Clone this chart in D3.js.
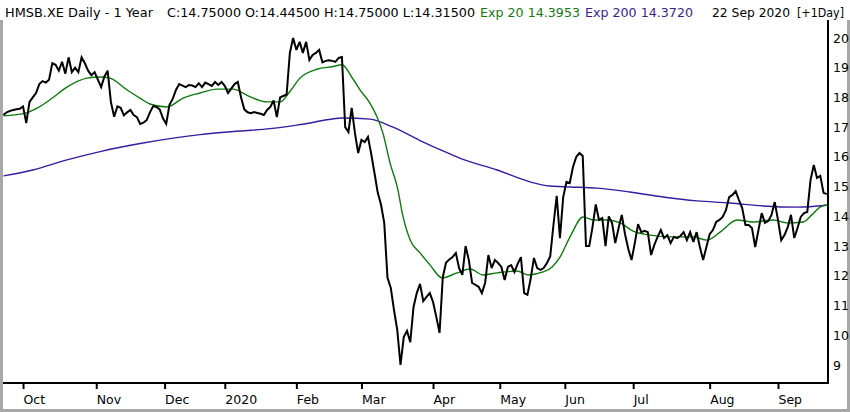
<!DOCTYPE html>
<html><head><meta charset="utf-8">
<script src="https://cdn.jsdelivr.net/npm/d3@7"></script>
<style>
html,body{margin:0;padding:0;background:#fff;}
svg{display:block;}
text{font-family:"DejaVu Sans",Verdana,sans-serif;}
</style></head>
<body>
<svg id="chart" width="850" height="412"></svg>
<script>
// ---- data (trading-day index based) ----
const closePrices = [
17.41,17.5,17.55,17.58,17.6,17.62,17.7,17.14,17.85,18.0,
18.15,18.45,18.55,18.5,18.6,19.15,19.1,18.9,19.2,18.8,
19.35,18.85,19.0,18.85,19.35,19.15,18.9,18.75,18.85,18.6,
18.35,18.7,18.9,17.85,17.35,17.7,17.65,17.4,17.5,17.58,
17.41,17.34,17.11,17.15,17.24,17.5,17.71,17.68,17.6,17.3,
17.11,17.75,17.95,18.25,18.45,18.4,18.35,18.42,18.4,18.35,
18.48,18.35,18.5,18.45,18.39,18.52,18.42,18.52,18.39,18.15,
18.3,18.45,18.52,18.0,17.6,17.5,17.47,17.51,17.48,17.45,
17.41,17.58,17.68,17.9,17.34,18.0,18.05,18.1,19.5,20.0,
19.6,19.87,19.5,19.87,19.26,19.43,19.5,19.6,19.18,19.23,
19.25,19.23,19.2,19.33,19.36,17.0,16.84,17.65,16.8,16.13,
16.57,16.5,16.67,16.1,15.46,14.8,14.4,13.78,11.93,11.6,
10.85,10.18,9.0,9.94,10.15,9.77,10.95,11.42,11.73,11.15,
11.29,11.42,11.12,10.62,10.08,11.96,12.45,12.55,12.63,12.77,
12.26,12.03,13.0,12.53,11.76,11.7,11.63,11.42,11.76,12.7,
12.26,12.53,12.43,12.3,11.86,12.3,12.36,12.13,12.4,12.63,
11.42,11.36,11.9,12.6,12.26,12.2,12.26,12.43,12.65,13.71,
14.69,13.27,14.65,15.16,15.12,15.66,16.0,16.13,16.03,13.0,
13.0,13.64,14.4,13.88,13.94,13.0,14.0,13.78,13.1,13.6,
14.05,13.4,12.9,12.53,13.1,13.74,13.47,13.51,13.47,12.7,
13.04,13.31,13.54,13.27,13.37,13.1,13.31,13.27,13.34,13.47,
13.2,13.47,13.14,13.47,12.97,12.53,12.97,13.4,13.54,13.81,
13.88,13.98,14.21,14.65,14.72,14.85,14.55,14.28,13.71,13.71,
13.61,12.97,13.54,14.11,13.78,13.84,14.05,14.48,13.88,13.2,
13.37,13.64,14.05,13.27,13.61,13.98,14.11,14.15,15.22,15.73,
15.29,15.36,14.79,14.75
];

const ema20Day = [0,7,11,15,19.5,25.7,29.7,32.7,38,41.9,45,50.2,55.2,60.4,65.6,70.5,75.8,81,85,88,91.1,96.3,101.3,104,107.4,109.6,112.6,114.8,116.6,118.8,121,122.8,125,128,131.1,134.8,139.4,143.4,147.4,151.7,157.8,161.2,165.8,168.6,171,174.1,178.1,181.2,185.5,189.5,193.5,198.7,204.8,211.9,216.2,220.2,225.4,230.3,236.5,240.8,245.7,248.4,250.9,253];
const ema20Val = [17.38,17.48,17.68,17.98,18.35,18.65,18.69,18.65,18.25,17.98,17.78,17.68,17.98,18.15,18.28,18.28,18.02,17.85,17.85,18.2,18.65,18.95,19.04,19.1,18.62,18.25,17.81,17.34,16.8,15.79,14.99,13.98,13.2,12.77,12.36,11.93,12.1,12.23,12.03,12.1,12.16,12.03,12.13,12.3,12.63,13.31,13.98,13.88,13.88,13.78,13.5,13.37,13.31,13.31,13.2,13.47,13.88,13.81,13.88,13.78,13.81,14.05,14.31,14.3953];

const ema200Day = [0,9,19.5,29.7,42,60.4,72.7,81.9,92,104.3,112.6,119.7,128,137.2,141.2,151.7,161.8,167.9,174.1,182.4,192.5,202.7,213.1,223.3,233.4,243.9,253];
const ema200Val = [15.36,15.56,15.9,16.18,16.45,16.75,16.87,16.95,17.1,17.31,17.27,17.0,16.55,16.1,15.92,15.56,15.16,15.02,14.99,14.95,14.82,14.65,14.52,14.45,14.35,14.31,14.372];

const monthLabels = ["Oct","Nov","Dec","2020","Feb","Mar","Apr","May","Jun","Jul","Aug","Sep"];
const monthStartIdx = [6,28.5,49.5,68,90,110,132,152.5,172.5,193.5,217,238];
const priceTicks = [9,10,11,12,13,14,15,16,17,18,19,20];

const headerParts = [
  {t:"HMSB.XE Daily -  1 Year", c:"#000", x:5, w:148},
  {t:"C:14.75000 O:14.44500 H:14.75000 L:14.31500", c:"#000", x:167, w:308},
  {t:"Exp 20 14.3953", c:"#157a15", x:480, w:100},
  {t:"Exp 200 14.3720", c:"#3a1f8c", x:585, w:108},
  {t:"22 Sep 2020", c:"#000", x:712, w:78},
  {t:"[+1Day]", c:"#000", x:797, w:47}
];

// ---- drawing ----
const svg = d3.select("#chart");
const W = 850, H = 412;
const plotLeft = 3.5, plotRight = 828, plotTop = 20, plotBottom = 383;

const x = d3.scaleLinear().domain([0, 253]).range([3.5, 826.8]);
const y = d3.scaleLinear().domain([9, 20]).range([365, 38]);

// frame
svg.append("rect").attr("x",0).attr("y",0).attr("width",W).attr("height",H).attr("fill","#fff");
svg.append("path")
  .attr("d", `M1.5,20 V410.5 H848.5 V20`)
  .attr("fill","none").attr("stroke","#a8a8a8").attr("stroke-width",3);

const clip = svg.append("defs").append("clipPath").attr("id","pc")
  .append("rect").attr("x",3).attr("y",plotTop).attr("width",plotRight-3).attr("height",plotBottom-plotTop);

const g = svg.append("g").attr("clip-path","url(#pc)");

const lineE = d3.line().x(d=>x(d[0])).y(d=>y(d[1])).curve(d3.curveMonotoneX);
g.append("path")
  .datum(ema200Day.map((d,i)=>[d, ema200Val[i]]))
  .attr("d", lineE).attr("fill","none").attr("stroke","#3a1aa0").attr("stroke-width",1.4);
g.append("path")
  .datum(ema20Day.map((d,i)=>[d, ema20Val[i]]))
  .attr("d", lineE).attr("fill","none").attr("stroke","#0e7a0e").attr("stroke-width",1.4);

const lineP = d3.line().x((d,i)=>x(i)).y(d=>y(d));
g.append("path")
  .datum(closePrices)
  .attr("d", lineP).attr("fill","none").attr("stroke","#000").attr("stroke-width",2)
  .attr("stroke-linejoin","miter").attr("stroke-miterlimit",3);

// axes lines
svg.append("line").attr("x1",3).attr("x2",plotRight+1).attr("y1",plotBottom).attr("y2",plotBottom)
  .attr("stroke","#000").attr("stroke-width",2);
svg.append("line").attr("x1",plotRight).attr("x2",plotRight).attr("y1",plotTop).attr("y2",plotBottom+1)
  .attr("stroke","#000").attr("stroke-width",2);

// right price axis via d3.axisRight (no tick lines)
const yAxis = d3.axisRight(y).tickValues(priceTicks).tickSize(0).tickPadding(5).tickFormat(d3.format("d"));
const ya = svg.append("g").attr("transform",`translate(${plotRight},0)`).call(yAxis);
ya.select(".domain").remove();
ya.selectAll("text").attr("font-size",12.5).attr("fill","#000")
  .style("font-family",'"DejaVu Sans",Verdana,sans-serif');

// bottom month axis
const xAxis = d3.axisBottom(x).tickValues(monthStartIdx)
  .tickFormat((d,i)=>monthLabels[i]).tickSize(6).tickPadding(5);
const xa = svg.append("g").attr("transform",`translate(0,${plotBottom})`).call(xAxis);
xa.select(".domain").remove();
xa.selectAll(".tick line").attr("stroke","#000").attr("stroke-width",2);
xa.selectAll("text").attr("font-size",12.5).attr("fill","#000").attr("text-anchor","start")
  .attr("x",0).attr("y",12).attr("dy","0.71em")
  .style("font-family",'"DejaVu Sans",Verdana,sans-serif');

// header
svg.append("g").selectAll("text").data(headerParts).join("text")
  .attr("x",d=>d.x).attr("y",17)
  .attr("font-size",12.5)
  .attr("fill",d=>d.c)
  .attr("textLength",d=>d.w).attr("lengthAdjust","spacingAndGlyphs")
  .text(d=>d.t);
</script>
</body></html>
